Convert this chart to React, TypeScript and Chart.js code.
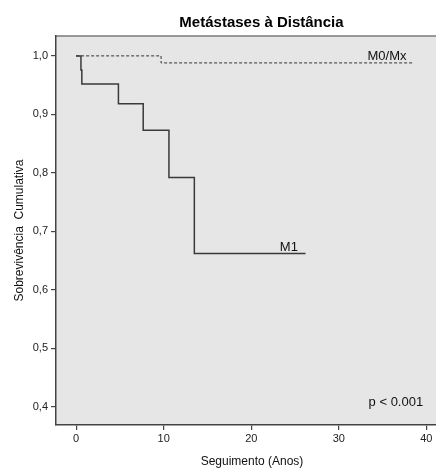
import React, { useEffect, useRef } from "react";
import { Chart, registerables } from "chart.js";

Chart.register(...registerables);

// ---- Data ----
const m0Times = [0, 9.7, 38.6];
const m0Surv = [1.0, 0.988, 0.988];

const m1Times = [0, 0.55, 0.65, 4.83, 7.66, 10.6, 13.5, 26.2];
const m1Surv = [1.0, 0.976, 0.952, 0.918, 0.873, 0.792, 0.662, 0.662];

const xTicks = [0, 10, 20, 30, 40];
const yTicks = [0.4, 0.5, 0.6, 0.7, 0.8, 0.9, 1.0];
const yTickLabels = ["0,4", "0,5", "0,6", "0,7", "0,8", "0,9", "1,0"];

const chartTitle = "Metástases à Distância";
const xTitle = "Seguimento (Anos)";
const yTitle = "Sobrevivência  Cumulativa";

// annotation texts with their data anchor (x, y in data units)
const annoTexts = ["M0/Mx", "M1", "p < 0.001"];
const annoX = [35.5, 24.3, 33.4];
const annoY = [0.993, 0.667, 0.401];
const annoAlign = ["center", "center", "left"];

const FONT = "'Liberation Sans', Arial, sans-serif";

const decorPlugin = {
  id: "kmDecor",
  beforeDraw(chart: any) {
    const { ctx, chartArea: a } = chart;
    ctx.save();
    ctx.fillStyle = "#e6e6e6";
    ctx.fillRect(a.left, a.top, a.right - a.left, a.bottom - a.top);
    ctx.strokeStyle = "#7a7a7a";
    ctx.lineWidth = 1.5;
    ctx.beginPath();
    ctx.moveTo(a.left, a.top);
    ctx.lineTo(a.right, a.top);
    ctx.stroke();
    ctx.restore();
  },
  afterDraw(chart: any) {
    const { ctx } = chart;
    const xs = chart.scales.x;
    const ys = chart.scales.y;
    ctx.save();
    // title
    ctx.fillStyle = "#000";
    ctx.font = `bold 15px ${FONT}`;
    ctx.textAlign = "center";
    ctx.textBaseline = "alphabetic";
    ctx.fillText(chartTitle, 261.5, 27);
    // x axis title
    ctx.fillStyle = "#111";
    ctx.font = `12px ${FONT}`;
    ctx.fillText(xTitle, 252, 465);
    // annotations
    ctx.font = `13px ${FONT}`;
    ctx.fillStyle = "#111";
    annoTexts.forEach((t, i) => {
      ctx.textAlign = annoAlign[i] as CanvasTextAlign;
      ctx.fillText(t, xs.getPixelForValue(annoX[i]), ys.getPixelForValue(annoY[i]));
    });
    ctx.restore();
  },
};

export default function App() {
  const ref = useRef<HTMLCanvasElement | null>(null);

  useEffect(() => {
    document.body.style.margin = "0";
    const canvas = ref.current;
    if (!canvas) return;
    const chart = new Chart(canvas, {
      type: "line",
      data: {
        datasets: [
          {
            label: "M0/Mx",
            data: m0Times.map((t, i) => ({ x: t, y: m0Surv[i] })),
            stepped: "before",
            borderColor: "#333",
            borderWidth: 1,
            borderDash: [3, 2],
            pointRadius: 0,
            fill: false,
          },
          {
            label: "M1",
            data: m1Times.map((t, i) => ({ x: t, y: m1Surv[i] })),
            stepped: "before",
            borderColor: "#3a3a3a",
            borderWidth: 1.5,
            pointRadius: 0,
            fill: false,
          },
        ],
      },
      options: {
        animation: false,
        responsive: false,
        devicePixelRatio: 1,
        layout: { padding: { top: 36, left: 0, right: 0, bottom: 0 } },
        plugins: {
          legend: { display: false },
          tooltip: { enabled: false },
          title: { display: false },
        },
        scales: {
          x: {
            type: "linear",
            min: -2.3,
            max: 41.1,
            afterFit: (s: any) => {
              s.height = 43;
            },
            afterBuildTicks: (s: any) => {
              s.ticks = xTicks.map((v) => ({ value: v }));
            },
            grid: {
              display: true,
              drawOnChartArea: false,
              drawTicks: true,
              tickLength: 5,
              color: "#444",
              lineWidth: 1.2,
            },
            border: { display: true, color: "#444", width: 1.5 },
            ticks: {
              font: { size: 11, family: FONT },
              color: "#222",
              padding: 2,
              maxRotation: 0,
              callback: (v: any) => String(v),
            },
            title: { display: false },
          },
          y: {
            type: "linear",
            min: 0.369,
            max: 1.034,
            afterFit: (s: any) => {
              s.width = 56;
            },
            afterBuildTicks: (s: any) => {
              s.ticks = yTicks.map((v) => ({ value: v }));
            },
            grid: {
              display: true,
              drawOnChartArea: false,
              drawTicks: true,
              tickLength: 5,
              color: "#444",
              lineWidth: 1.2,
            },
            border: { display: true, color: "#444", width: 1.5 },
            ticks: {
              font: { size: 11, family: FONT },
              color: "#222",
              padding: 3,
              callback: (v: any) => {
                const i = yTicks.findIndex((t) => Math.abs(t - v) < 1e-6);
                return i >= 0 ? yTickLabels[i] : "";
              },
            },
            title: {
              display: true,
              text: yTitle,
              font: { size: 12, family: FONT },
              color: "#111",
              padding: { top: 12, bottom: 0 },
            },
          },
        },
      },
      plugins: [decorPlugin],
    });
    return () => chart.destroy();
  }, []);

  return (
    <div style={{ width: 436, height: 468, position: "relative", background: "#fff" }}>
      <canvas ref={ref} width={436} height={468} style={{ width: 436, height: 468, display: "block" }} />
    </div>
  );
}
